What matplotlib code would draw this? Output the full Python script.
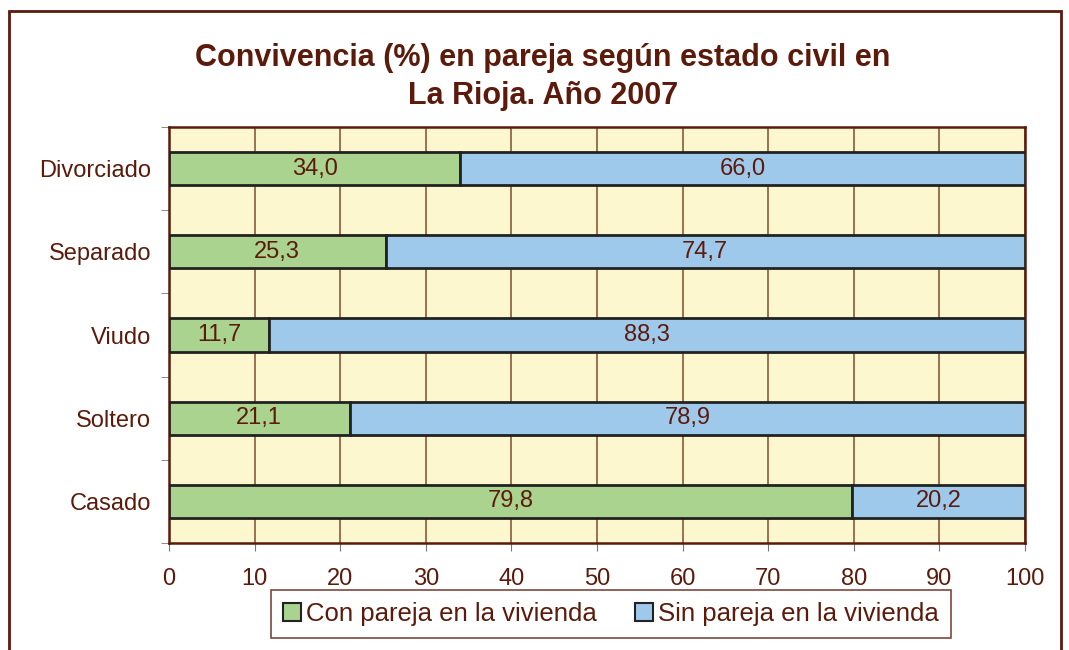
import numpy as np
import matplotlib.pyplot as plt
from matplotlib.patches import Rectangle

estados = ['Casado', 'Soltero', 'Viudo', 'Separado', 'Divorciado']
con_pareja = [79.8, 21.1, 11.7, 25.3, 34.0]
sin_pareja = [20.2, 78.9, 88.3, 74.7, 66.0]
series_labels = ['Con pareja en la vivienda', 'Sin pareja en la vivienda']
x_ticks = [0, 10, 20, 30, 40, 50, 60, 70, 80, 90, 100]

brown = '#5c1a0b'
green = '#a9d38f'
blue = '#9ec9eb'
bg = '#fcf7cf'

plt.rcParams['font.family'] = ['Liberation Sans', 'DejaVu Sans']

fig = plt.figure(figsize=(10.69, 6.5), dpi=100)
W, H = 1069, 650
ax = fig.add_axes([169 / W, 1 - 543 / H, (1025 - 169) / W, (543 - 127) / H])
ax.set_facecolor(bg)

# outer frame
fig.patches.append(Rectangle((9 / W, -0.05), (1061 - 9) / W, 1.05 - 11 / H,
                             transform=fig.transFigure, fill=False,
                             edgecolor=brown, linewidth=2))

y = np.arange(len(estados))
h = 0.4
b1 = ax.barh(y, con_pareja, height=h, color=green, edgecolor='#222222',
             linewidth=2, label=series_labels[0], zorder=3)
b2 = ax.barh(y, sin_pareja, left=con_pareja, height=h, color=blue,
             edgecolor='#222222', linewidth=2, label=series_labels[1], zorder=3)

for bars in (b1, b2):
    ax.bar_label(bars, labels=[f'{v.get_width():.1f}'.replace('.', ',') for v in bars],
                 label_type='center', color=brown, fontsize=17, zorder=4)

ax.set_xlim(0, 100)
ax.set_ylim(-0.5, len(estados) - 0.5)
ax.set_xticks(x_ticks)
ax.set_xticklabels([str(t) for t in x_ticks], color=brown, fontsize=17)
ax.set_yticks(y)
ax.set_yticklabels(estados, color=brown, fontsize=17)
ax.tick_params(axis='y', which='major', length=0, pad=13)
ax.set_yticks(np.arange(-0.5, len(estados), 1.0), minor=True)
ax.tick_params(axis='y', which='minor', length=6, color='#777777', direction='out')
ax.tick_params(axis='x', length=6, color='#777777', pad=12)

ax.xaxis.grid(True, color='#8a5a3a', linewidth=1.2, zorder=0)
ax.set_axisbelow(True)
for s in ax.spines.values():
    s.set_color(brown)
    s.set_linewidth(1.8)

fig.text(543 / W, 1 - 58 / H, 'Convivencia (%) en pareja según estado civil en',
         ha='center', va='center', fontsize=22, fontweight='bold', color=brown)
fig.text(543 / W, 1 - 96 / H, 'La Rioja. Año 2007',
         ha='center', va='center', fontsize=22, fontweight='bold', color=brown)

leg = fig.legend(loc='center', bbox_to_anchor=(611 / W, 1 - 614 / H), ncol=2,
                 fontsize=18.5, frameon=True, fancybox=False, handlelength=0.7,
                 handleheight=0.7, handletextpad=0.2, columnspacing=1.5,
                 borderpad=0.45, borderaxespad=0)
leg._legend_box.sep = 0
leg.get_frame().set_edgecolor(brown)
leg.get_frame().set_linewidth(1.2)
for t in leg.get_texts():
    t.set_color(brown)
for p in leg.legend_handles:
    p.set_linewidth(1.5)

fig.savefig('out.png', dpi=100)
